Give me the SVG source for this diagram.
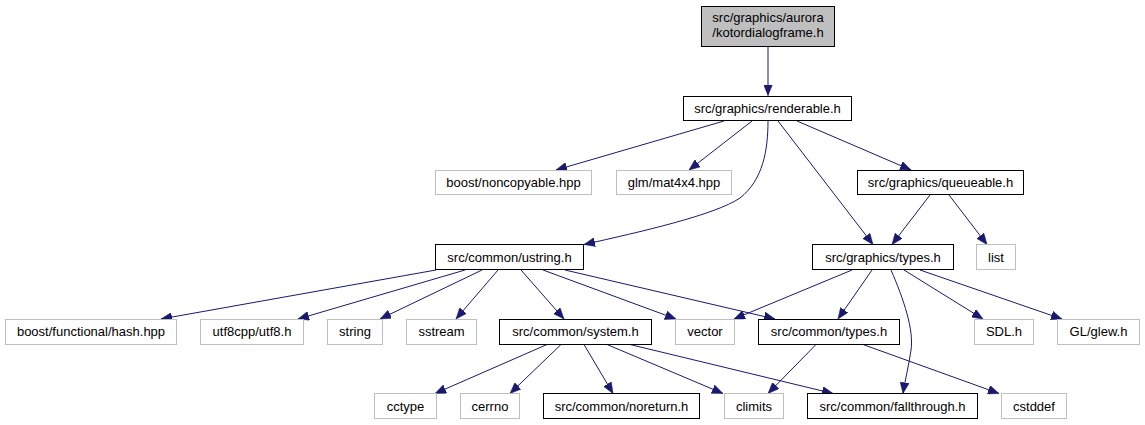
<svg xmlns="http://www.w3.org/2000/svg" width="1145" height="425" viewBox="0 0 1145 425">
<style>
.n rect{fill:#ffffff;stroke:#000000;stroke-width:1}
.u rect{fill:#ffffff;stroke:#bfbfbf;stroke-width:1}
.root rect{fill:#bfbfbf;stroke:#000000;stroke-width:1}
text{font-family:"Liberation Sans",Arial,Helvetica,sans-serif;font-size:13px;fill:#000000;text-anchor:middle}
.e path{fill:none;stroke:#191970;stroke-width:1;marker-end:url(#ah)}
</style>
<defs>
<marker id="ah" markerUnits="userSpaceOnUse" markerWidth="11" markerHeight="9" refX="11" refY="4.5" orient="auto">
<path d="M0,0 L11,4.5 L0,9 z" fill="#191970" stroke="#191970" stroke-width="0.5"/>
</marker>
</defs>
<rect width="1145" height="425" fill="#ffffff"/>
<g id="edges" class="e">
<path d="M768,46.5 L768,95.5"/>
<path d="M724,121 L556,170"/>
<path d="M752,121 L689,170"/>
<path d="M768,121 C768,150 763,180 740,198 C715,215 640,232 584,244.5"/>
<path d="M778,121 L873,244.5"/>
<path d="M797,121 L911,170"/>
<path d="M930,195 L892,244.5"/>
<path d="M949,195 L987,244.5"/>
<path d="M436,270 L161,319"/>
<path d="M465,270 L298,319"/>
<path d="M482,270 L380,319"/>
<path d="M498,270 L456,319"/>
<path d="M521,270 L564,319"/>
<path d="M543,270 L676,319"/>
<path d="M565,270 L775,319"/>
<path d="M852,270 L734,319"/>
<path d="M872,270 L838,319"/>
<path d="M891,270 C904,300 914,330 911,350 C909,365 905,380 903,393.5"/>
<path d="M904,270 L983,319"/>
<path d="M920,270 L1062,319"/>
<path d="M547,344.5 L435,393.5"/>
<path d="M561,344.5 L510,393.5"/>
<path d="M584,344.5 L613,393.5"/>
<path d="M607,344.5 L723,393.5"/>
<path d="M630,344.5 L833,393.5"/>
<path d="M816,344.5 L768,393.5"/>
<path d="M863,344.5 L999,393.5"/>
</g>
<g id="node_root" class="root"><rect x="701.5" y="6.5" width="133" height="40"/><text x="768" y="22">src/graphics/aurora</text><text x="768" y="37">/kotordialogframe.h</text></g>
<g id="node_renderable" class="n"><rect x="683.5" y="96.5" width="168" height="24"/><text x="767.5" y="113">src/graphics/renderable.h</text></g>
<g id="node_noncopyable" class="u"><rect x="435.5" y="170.5" width="156" height="24"/><text x="513.5" y="187">boost/noncopyable.hpp</text></g>
<g id="node_mat4x4" class="u"><rect x="616.5" y="170.5" width="115" height="24"/><text x="674" y="187">glm/mat4x4.hpp</text></g>
<g id="node_queueable" class="n"><rect x="857.5" y="170.5" width="166" height="24"/><text x="940.5" y="187">src/graphics/queueable.h</text></g>
<g id="node_ustring" class="n"><rect x="435.5" y="244.5" width="148" height="25"/><text x="509.5" y="261.5">src/common/ustring.h</text></g>
<g id="node_gtypes" class="n"><rect x="812.5" y="244.5" width="141" height="25"/><text x="883" y="261.5">src/graphics/types.h</text></g>
<g id="node_list" class="u"><rect x="976.5" y="244.5" width="39" height="25"/><text x="996" y="261.5">list</text></g>
<g id="node_hash" class="u"><rect x="5.5" y="319.5" width="171" height="25"/><text x="91" y="336">boost/functional/hash.hpp</text></g>
<g id="node_utf8" class="u"><rect x="200.5" y="319.5" width="103" height="25"/><text x="252" y="336">utf8cpp/utf8.h</text></g>
<g id="node_string" class="u"><rect x="327.5" y="319.5" width="55" height="25"/><text x="355" y="336">string</text></g>
<g id="node_sstream" class="u"><rect x="406.5" y="319.5" width="70" height="25"/><text x="441.5" y="336">sstream</text></g>
<g id="node_system" class="n"><rect x="499.5" y="319.5" width="152" height="25"/><text x="575.5" y="336">src/common/system.h</text></g>
<g id="node_vector" class="u"><rect x="675.5" y="319.5" width="59" height="25"/><text x="705" y="336">vector</text></g>
<g id="node_ctypes" class="n"><rect x="758.5" y="319.5" width="141" height="25"/><text x="829" y="336">src/common/types.h</text></g>
<g id="node_sdl" class="u"><rect x="974.5" y="319.5" width="59" height="25"/><text x="1004" y="336">SDL.h</text></g>
<g id="node_glew" class="u"><rect x="1057.5" y="319.5" width="82" height="25"/><text x="1098.5" y="336">GL/glew.h</text></g>
<g id="node_cctype" class="u"><rect x="374.5" y="393.5" width="62" height="25"/><text x="405.5" y="410.5">cctype</text></g>
<g id="node_cerrno" class="u"><rect x="460.5" y="393.5" width="59" height="25"/><text x="490" y="410.5">cerrno</text></g>
<g id="node_noreturn" class="n"><rect x="543.5" y="393.5" width="156" height="25"/><text x="621.5" y="410.5">src/common/noreturn.h</text></g>
<g id="node_climits" class="u"><rect x="724.5" y="393.5" width="59" height="25"/><text x="754" y="410.5">climits</text></g>
<g id="node_fallthrough" class="n"><rect x="807.5" y="393.5" width="170" height="25"/><text x="892.5" y="410.5">src/common/fallthrough.h</text></g>
<g id="node_cstddef" class="u"><rect x="1001.5" y="393.5" width="65" height="25"/><text x="1034" y="410.5">cstddef</text></g>
</svg>
